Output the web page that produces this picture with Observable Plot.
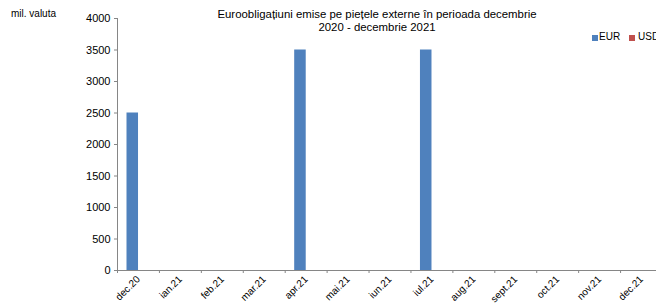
<!DOCTYPE html>
<html>
<head>
<meta charset="utf-8">
<script src="https://cdn.jsdelivr.net/npm/d3@7"></script>
<script src="https://cdn.jsdelivr.net/npm/@observablehq/plot@0.6"></script>
<style>
  body { margin: 0; background: #fff; font-family: "Liberation Sans", Arial, sans-serif; }
  #wrap { position: relative; width: 656px; height: 305px; overflow: hidden; }
  #wrap svg { position: absolute; left: 0; top: 0; }
  .t { position: absolute; color: #000; white-space: nowrap; }
  .title { font-size: 11.4px; line-height: 13px; text-align: center; left: 377px; top: 8px; transform: translateX(-50%); }
  .unit { font-size: 10px; line-height: 12px; left: 11px; top: 8px; }
  .leg { font-size: 10px; line-height: 10px; top: 32px; }
  .sw { position: absolute; width: 6px; height: 6px; top: 34.5px; }
</style>
</head>
<body>
<div id="wrap">
  <div class="t unit">mil. valuta</div>
  <div class="t title">Euroobligațiuni emise pe piețele externe în perioada decembrie<br>2020 - decembrie 2021</div>
  <div class="sw" style="left:592px;background:#4F81BD"></div>
  <div class="t leg" style="left:599px">EUR</div>
  <div class="sw" style="left:629px;background:#C0504D"></div>
  <div class="t leg" style="left:638px">USD</div>
</div>
<script>
const months = ["dec.20","ian.21","feb.21","mar.21","apr.21","mai.21","iun.21","iul.21","aug.21","sept.21","oct.21","nov.21","dec.21"];
const series = ["EUR","USD"];
const eurValues = [2500,0,0,0,3500,0,0,3500,0,0,0,0,0];
const usdValues = [0,0,0,0,0,0,0,0,0,0,0,0,0];
const yTicks = [0,500,1000,1500,2000,2500,3000,3500,4000];
const colors = ["#4F81BD","#C0504D"];

const eurData = months.map((m, i) => ({month: m, series: "EUR", value: eurValues[i]}));
const usdData = months.map((m, i) => ({month: m, series: "USD", value: usdValues[i]}));

const W = 656, H = 305;
const mL = 117, mR = -6, mT = 18, mB = 35;
const step = (W - mR - mL) / months.length;
const axisColor = "#868686";

const chart = Plot.plot({
  width: W,
  height: H,
  marginLeft: mL,
  marginRight: mR,
  marginTop: mT,
  marginBottom: mB,
  style: {fontFamily: "Liberation Sans, Arial, sans-serif", fontSize: "11px", color: "#000", background: "transparent", overflow: "hidden"},
  x: {domain: months, padding: 0, round: false, axis: null},
  y: {domain: [0, 4000], axis: null},
  color: {domain: series, range: colors},
  marks: [
    Plot.barY(eurData, {x: "month", y: "value", fill: "series", insetLeft: 9.5, insetRight: 20.9}),
    Plot.barY(usdData, {x: "month", y: "value", fill: "series", insetLeft: 20.9, insetRight: 9.5}),
    Plot.ruleY([0], {stroke: axisColor}),
    Plot.ruleX([months[0]], {y1: 0, y2: 4000, dx: -step / 2, stroke: axisColor}),
    Plot.ruleX(months, {y1: 0, y2: 0, insetBottom: -3, dx: -step / 2, stroke: axisColor}),
    Plot.axisY({ticks: yTicks, tickFormat: d => String(d), tickSize: 3, tickPadding: 4, stroke: axisColor, fill: "#000", fontSize: 11, label: null}),
    Plot.axisX({tickSize: 0, tickPadding: 7, tickRotate: -45, fill: "#000", fontSize: 10, label: null})
  ]
});
document.getElementById("wrap").prepend(chart);
</script>
</body>
</html>
